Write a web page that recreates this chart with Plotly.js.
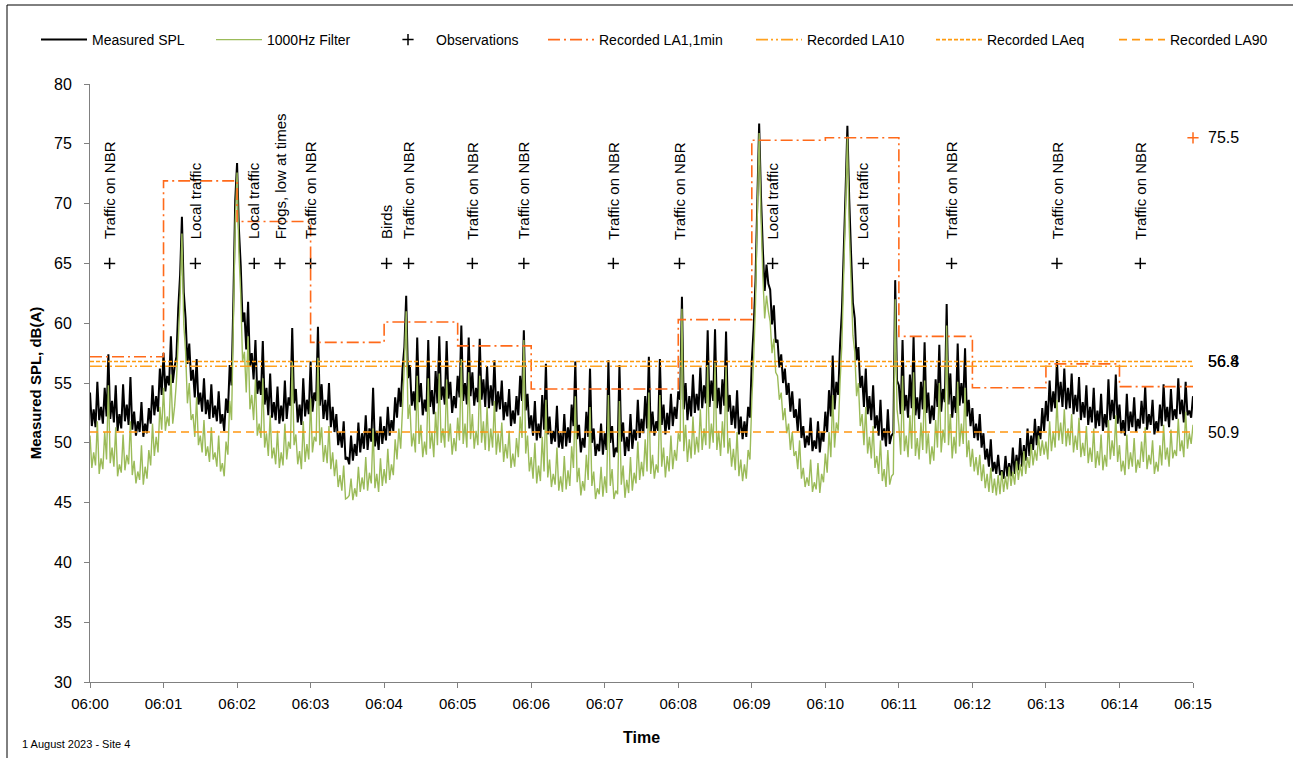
<!DOCTYPE html>
<html><head><meta charset="utf-8">
<script src="https://cdn.plot.ly/plotly-3.0.1.min.js"></script>
<style>html,body{margin:0;padding:0;background:#fff}#chart{width:1293px;height:758px}</style>
</head><body><div id="chart"></div>
<script>
// ---------------- DATA ----------------
const dayPrefix = '2023-08-01 ';
const sampleStepSec = 1.5; // one reading every 1.5 s from 06:00:00 to 06:15:00

const measuredSPL = [
 54.2,51.4,52.8,51.3,55.1,51.9,53.0,51.6,54.6,52.2,57.4,52.0,53.5,51.7,54.8,51.0,52.4,51.2,54.9,51.8,53.2,51.5,55.5,51.1,52.6,50.6,51.8,50.9,53.4,50.5,51.6,50.8,52.9,51.6,54.8,52.3,53.9,52.6,56.2,54.0,
 57.5,54.3,55.6,54.8,58.9,55.0,56.3,57.2,61.2,64.0,68.9,62.6,60.4,56.6,58.3,55.2,56.1,53.8,57.0,53.2,54.2,52.6,55.4,52.4,53.6,52.0,54.9,52.1,53.1,51.8,54.3,51.6,52.4,51.0,53.7,52.5,56.5,54.8,62.0,70.3,
 73.4,67.9,64.8,60.1,60.9,57.8,61.8,56.4,57.5,55.3,58.6,54.1,55.2,54.0,58.5,53.2,54.6,52.3,55.8,52.1,53.4,51.9,54.7,51.6,53.1,51.8,55.2,52.0,53.8,53.1,59.6,53.3,54.5,51.7,53.2,51.5,55.4,52.2,53.6,52.4,
 56.8,52.6,54.2,53.5,59.7,53.1,54.9,52.0,53.6,51.9,55.0,51.3,53.0,50.9,52.4,49.8,50.9,49.6,51.8,48.6,48.8,48.2,50.6,48.5,49.9,48.9,51.7,49.2,50.8,49.5,52.3,49.4,51.2,50.1,54.6,49.7,51.0,49.4,52.2,49.9,
 51.4,50.2,53.0,50.6,51.9,51.0,53.8,52.1,54.6,53.0,56.2,58.0,62.3,55.4,56.5,53.1,54.3,52.7,58.8,53.4,55.0,52.3,53.6,52.6,58.6,53.0,54.4,52.4,56.0,53.3,58.9,53.6,54.7,53.2,58.5,53.7,55.1,52.5,53.9,52.9,
 55.6,53.8,59.8,53.5,55.0,53.2,58.8,53.9,55.9,53.1,54.6,53.4,58.7,53.6,55.3,53.0,56.4,52.9,54.8,53.1,56.9,52.6,54.3,52.8,55.2,51.9,53.4,52.2,54.5,51.4,52.7,51.6,53.9,52.3,55.6,53.5,59.4,52.7,54.1,51.2,
 52.3,50.6,53.5,50.2,51.6,50.4,54.0,51.1,56.6,50.7,52.2,49.9,51.0,50.1,53.1,49.6,50.8,49.5,52.4,49.7,51.3,50.0,53.2,51.4,56.8,50.3,51.5,49.2,50.4,49.6,52.6,50.5,56.2,50.0,51.2,48.9,49.9,49.3,51.6,49.0,
 50.8,49.4,56.9,50.0,51.4,48.8,49.6,49.2,56.5,50.1,51.7,48.9,50.5,49.3,52.4,49.5,51.1,50.2,53.6,50.4,52.0,50.8,53.9,51.2,57.2,50.9,52.6,50.6,51.8,51.0,57.0,51.5,53.2,50.7,52.5,51.1,54.1,51.4,53.0,52.0,
 54.3,53.6,62.2,52.8,55.0,51.9,53.9,52.2,55.7,52.5,54.1,52.7,56.3,52.9,54.8,53.3,59.4,53.0,55.2,53.5,59.5,52.9,54.6,52.4,55.3,53.1,59.3,52.6,54.0,51.5,53.1,51.2,54.4,50.7,52.2,50.3,51.8,50.5,53.0,52.1,
 56.8,59.6,63.5,70.2,76.7,70.6,66.2,62.7,64.9,63.3,62.8,59.9,61.5,58.4,58.6,56.3,57.4,55.0,56.2,54.0,55.0,52.6,54.3,52.1,52.8,51.0,53.7,50.4,51.4,49.6,50.6,49.8,52.1,49.3,50.2,49.5,51.8,49.2,50.9,50.1,
 52.6,50.9,54.4,52.2,57.3,52.8,55.1,54.0,58.2,61.0,66.0,71.0,76.5,70.4,65.8,61.7,60.4,56.9,58.0,54.6,55.6,53.0,56.2,52.4,53.9,51.9,54.8,51.2,52.3,50.6,53.6,50.2,51.2,49.7,52.8,49.9,50.6,50.8,63.6,55.2,
 54.8,52.4,58.6,52.7,54.0,52.1,55.7,52.9,58.9,52.3,53.8,52.0,55.1,52.8,58.4,52.5,54.2,51.6,53.1,51.9,55.3,53.0,58.2,52.6,54.5,53.4,61.6,53.2,55.8,52.1,53.9,52.5,58.3,53.1,55.0,53.3,57.9,52.2,53.6,51.4,
 52.9,50.4,51.6,50.2,52.4,49.6,50.8,48.6,49.5,48.0,50.3,47.6,48.4,47.4,49.0,47.3,47.7,47.0,48.9,47.2,48.3,47.2,49.6,47.4,49.0,47.7,50.4,48.0,49.8,48.5,51.2,48.9,50.6,49.4,52.0,49.8,51.4,50.3,52.9,51.0,
 53.5,51.8,55.2,52.6,54.3,52.9,56.9,53.4,55.1,53.0,56.2,52.8,54.6,52.9,55.8,52.4,54.0,52.6,55.5,51.9,53.4,52.1,54.8,51.5,53.0,51.7,54.6,51.2,52.7,51.4,54.1,51.0,52.4,51.3,55.3,51.9,53.6,52.0,55.7,51.6,
 53.2,50.8,51.9,50.6,54.1,51.0,52.6,51.3,53.8,50.9,52.0,51.2,53.5,51.6,54.7,51.1,52.4,51.5,53.6,50.7,51.8,50.9,53.2,51.4,54.9,51.8,53.0,51.3,54.5,51.9,52.8,52.0,55.4,52.4,53.6,51.7,55.1,52.3,52.7,52.1,
 53.9
];

const filter1000Hz = [
 50.6,47.9,49.2,48.1,51.8,47.4,48.7,47.8,50.9,48.6,54.8,48.3,49.6,48.0,51.3,47.2,48.2,47.5,50.7,47.7,49.0,48.2,51.8,47.3,48.5,46.6,47.6,46.9,49.8,46.5,48.0,47.0,49.4,48.1,51.6,48.9,50.5,49.2,53.0,51.1,
 54.6,51.0,52.2,51.4,55.7,51.6,53.0,55.1,58.5,62.0,67.5,59.9,57.6,53.3,55.0,51.9,52.4,50.5,53.8,49.8,50.6,49.2,51.9,48.9,49.7,48.4,51.3,48.6,49.2,48.0,50.6,47.6,48.3,47.2,50.1,49.0,53.5,51.9,60.2,68.4,
 72.6,65.9,62.4,56.8,57.6,54.2,58.9,52.8,54.0,51.9,55.3,50.6,51.6,50.4,55.4,49.6,50.8,48.9,52.3,48.7,49.6,48.2,51.0,47.9,49.2,48.1,51.6,48.6,50.1,49.5,56.8,49.8,50.7,48.2,49.3,47.8,51.8,48.4,49.9,48.6,
 53.7,49.2,50.5,50.1,57.1,49.8,51.3,48.4,49.8,48.3,51.4,47.8,49.2,47.2,48.6,46.3,47.3,46.0,48.1,45.3,45.4,45.6,47.0,45.2,46.2,45.5,48.0,45.9,47.1,46.1,48.8,46.0,47.5,46.6,51.2,46.2,47.4,45.9,48.7,46.4,
 47.8,46.6,49.5,46.9,48.2,47.3,50.3,48.6,51.2,49.5,52.9,56.6,61.0,52.0,53.2,49.7,50.8,49.2,55.6,49.9,51.5,48.8,50.1,49.0,55.4,49.5,50.9,48.8,52.6,49.8,55.8,50.0,51.2,49.6,55.3,50.1,51.6,49.0,50.4,49.3,
 52.1,50.2,57.0,49.9,51.6,49.6,55.9,50.3,52.4,49.5,51.0,49.8,55.6,50.0,51.8,49.4,53.0,49.3,51.2,49.6,53.5,49.0,50.8,49.2,51.7,48.4,49.9,48.7,51.0,47.9,49.1,48.0,50.4,48.8,52.2,50.4,58.6,49.1,50.6,47.6,
 48.8,47.0,50.0,46.6,48.1,46.8,50.5,47.6,53.6,47.1,48.6,46.3,47.4,46.5,49.6,46.0,47.2,45.9,48.9,46.1,47.7,46.4,49.7,47.9,53.9,46.7,47.9,45.6,46.8,46.0,49.0,46.9,53.0,46.4,47.6,45.3,46.2,45.7,48.0,45.5,
 47.2,45.8,54.0,46.4,47.8,45.3,46.0,45.7,53.5,46.5,48.1,45.4,46.9,45.8,48.8,46.0,47.5,46.6,50.1,46.9,48.4,47.2,50.3,47.6,54.2,47.4,49.0,47.0,48.2,47.5,54.0,48.0,49.6,47.1,48.9,47.6,50.6,47.8,49.4,48.5,
 50.8,50.1,61.2,49.3,51.5,48.4,50.3,48.7,52.2,49.0,50.5,49.2,52.8,49.4,51.2,49.8,56.5,49.5,51.6,50.0,56.7,49.4,51.0,48.9,51.8,49.6,56.4,49.1,50.4,48.0,49.5,47.7,50.9,47.2,48.6,46.8,48.2,47.0,49.4,48.6,
 53.5,57.0,61.6,69.2,75.9,69.0,64.0,60.4,62.3,61.0,60.1,57.5,58.7,55.9,55.6,53.6,54.2,51.9,52.9,50.8,51.6,49.4,50.9,48.9,49.3,47.8,50.2,47.0,47.9,46.3,47.1,46.4,48.6,45.9,46.7,46.1,48.3,45.8,47.4,46.7,
 49.1,47.5,50.9,48.8,54.0,49.6,51.7,51.0,55.0,58.2,64.2,69.6,75.6,68.0,63.5,59.0,57.6,53.9,55.0,51.4,52.4,49.8,53.0,49.1,50.5,48.7,51.4,47.9,48.9,47.4,50.2,46.8,47.8,46.3,49.4,46.5,47.2,47.4,62.0,52.8,
 51.4,49.0,55.6,49.3,50.6,48.8,52.3,49.5,55.9,48.9,50.4,48.6,51.7,49.4,55.2,49.1,50.8,48.2,49.7,48.5,51.9,49.6,55.0,49.2,51.1,50.0,59.8,49.8,52.4,48.7,50.5,49.1,55.1,49.7,51.6,49.9,54.6,48.8,50.2,48.0,
 49.5,47.6,48.8,47.3,49.0,46.8,48.2,46.2,47.4,45.9,47.9,45.8,47.0,45.6,47.3,45.7,47.6,45.9,47.2,46.1,48.0,46.4,47.6,46.5,48.5,46.9,48.2,47.2,49.3,47.4,48.8,47.9,49.9,48.1,49.4,48.5,50.6,48.9,50.2,49.0,
 50.1,48.6,51.8,49.3,50.9,49.6,53.6,50.2,51.7,49.9,52.8,49.7,51.2,49.8,52.4,49.2,50.6,49.4,52.1,48.8,50.0,48.9,51.4,48.3,49.6,48.4,51.2,47.9,49.3,48.1,50.7,47.7,49.0,48.0,51.9,48.6,50.2,48.9,52.3,48.4,
 49.8,47.6,48.5,47.3,50.7,47.8,49.2,48.0,50.4,47.5,48.6,47.9,50.1,48.4,51.3,47.8,49.0,48.2,50.2,47.4,48.4,47.6,49.8,48.1,51.5,48.6,49.6,48.0,51.1,48.7,49.4,48.9,52.0,49.3,50.2,48.8,52.6,49.5,50.8,49.9,
 51.5
];

const obsTimes = ['06:00:16','06:01:26','06:02:14','06:02:35','06:03:00','06:04:02','06:04:20','06:05:12',
                  '06:05:54','06:07:07','06:08:01','06:09:17','06:10:31','06:11:43','06:13:09','06:14:17'];
const obsLabels = ['Traffic on NBR','Local traffic','Local traffic','Frogs, low at times','Traffic on NBR','Birds',
                   'Traffic on NBR','Traffic on NBR','Traffic on NBR','Traffic on NBR','Traffic on NBR',
                   'Local traffic','Local traffic','Traffic on NBR','Traffic on NBR','Traffic on NBR'];
const obsLevel = 65;

const la1Times = ['06:00','06:01','06:02','06:03','06:04','06:05','06:06','06:07','06:08','06:09','06:10','06:11','06:12','06:13','06:14','06:15'];
const la1Values = [57.2,71.9,68.5,58.4,60.1,58.1,54.5,54.5,60.3,75.3,75.5,58.9,54.6,56.6,54.7,54.7];
const la1Max = 75.5;
const la10Value = 56.4;
const laeqValue = 56.8;
const la90Value = 50.9;

const xTickLabels = ['06:00','06:01','06:02','06:03','06:04','06:05','06:06','06:07','06:08','06:09','06:10','06:11','06:12','06:13','06:14','06:15'];
const yTickValues = [30,35,40,45,50,55,60,65,70,75,80];

// ---------------- BUILD ----------------
function pad(n){return (n<10?'0':'')+n;}
function sampleTime(i){const s=i*sampleStepSec;return dayPrefix+'06:'+pad(Math.floor(s/60))+':'+pad(s%60);}
const sampleX = measuredSPL.map((_,i)=>sampleTime(i));
const tStart = dayPrefix + xTickLabels[0];
const tEnd = dayPrefix + xTickLabels[xTickLabels.length-1];
const tickVals = xTickLabels.map(t=>dayPrefix+t);
const FONT = 'Liberation Sans, Arial, sans-serif';
const cLA1='#FF6A1A', cLA10='#FFA11F', cLAeq='#FF9B0F', cLA90='#FF9710';

const traces = [
 {x:sampleX,y:measuredSPL,type:'scatter',mode:'lines',name:'Measured SPL',legend:'legend',line:{color:'#000000',width:2,simplify:false}},
 {x:sampleX,y:filter1000Hz,type:'scatter',mode:'lines',name:'1000Hz Filter',legend:'legend2',line:{color:'#9BBB59',width:1.4,simplify:false}},
 {x:obsTimes.map(t=>dayPrefix+t),y:obsTimes.map(()=>obsLevel),type:'scatter',mode:'markers',name:'Observations',legend:'legend3',
  marker:{symbol:'cross-thin',size:8,color:'#000',line:{color:'#000',width:1.5}}},
 {x:la1Times.map(t=>dayPrefix+t),y:la1Values,type:'scatter',mode:'lines',name:'Recorded LA1,1min',legend:'legend4',
  line:{color:cLA1,width:1.6,shape:'hv',dash:'12px,4px,2px,4px'}},
 {x:[tStart,tEnd],y:[la10Value,la10Value],type:'scatter',mode:'lines',name:'Recorded LA10',legend:'legend5',
  line:{color:cLA10,width:1.6,dash:'12px,3px,2px,3px,2px,3px'}},
 {x:[tStart,tEnd],y:[laeqValue,laeqValue],type:'scatter',mode:'lines',name:'Recorded LAeq',legend:'legend6',
  line:{color:cLAeq,width:1.6,dash:'4px,2px'}},
 {x:[tStart,tEnd],y:[la90Value,la90Value],type:'scatter',mode:'lines',name:'Recorded LA90',legend:'legend7',
  line:{color:cLA90,width:1.6,dash:'8px,5px'}},
 {x:[tEnd],y:[la1Max],type:'scatter',mode:'markers',showlegend:false,cliponaxis:false,
  marker:{symbol:'cross-thin',size:8,color:cLA1,line:{color:cLA1,width:1.5}}}
];

const annotations = obsTimes.map((t,i)=>({
  x:dayPrefix+t,y:obsLevel,xref:'x',yref:'y',text:obsLabels[i],textangle:-90,showarrow:false,
  xanchor:'center',yanchor:'bottom',yshift:22,font:{family:FONT,size:15,color:'#000'}
}));
[[la1Max,la1Max],[laeqValue,laeqValue],[la10Value,laeqValue],[la90Value,la90Value]].forEach(([v,pos])=>{
  annotations.push({x:1,xref:'paper',y:pos,yref:'y',text:v.toFixed(1),showarrow:false,xanchor:'left',xshift:13,
    font:{family:FONT,size:16,color:'#000'}});
});
annotations.push({x:(20-90)/1103,xref:'paper',y:-(744-682)/598,yref:'paper',text:'1 August 2023 - Site 4',
  showarrow:false,xanchor:'left',yanchor:'middle',font:{family:FONT,size:11,color:'#000'}});

// one legend box per entry so each sits where the reference puts it
const legendLeftPx = [36,211,380,543,751,931,1114];
function legendBox(px){
  return {orientation:'h',x:(px-90)/1103,xanchor:'left',y:1+(84-40)/598,yanchor:'middle',
    font:{family:FONT,size:14,color:'#000'},itemwidth:46,bgcolor:'rgba(0,0,0,0)'};
}

const layout = {
  width:1293,height:758,
  margin:{l:90,r:100,t:84,b:76},
  paper_bgcolor:'#fff',plot_bgcolor:'#fff',
  font:{family:FONT,color:'#000'},
  showlegend:true,
  legend:legendBox(legendLeftPx[0]),legend2:legendBox(legendLeftPx[1]),legend3:legendBox(legendLeftPx[2]),
  legend4:legendBox(legendLeftPx[3]),legend5:legendBox(legendLeftPx[4]),legend6:legendBox(legendLeftPx[5]),
  legend7:legendBox(legendLeftPx[6]),
  xaxis:{type:'date',range:[tStart,tEnd],tickvals:tickVals,ticktext:xTickLabels,ticks:'outside',ticklen:5,
    tickcolor:'#808080',showline:true,linecolor:'#808080',linewidth:1,showgrid:false,zeroline:false,
    tickfont:{family:FONT,size:15,color:'#000'},ticklabelstandoff:3,
    title:{text:'<b>Time</b>',font:{family:FONT,size:16,color:'#000'},standoff:20}},
  yaxis:{range:[30,80],tickvals:yTickValues,ticks:'outside',ticklen:5,tickcolor:'#808080',showline:true,
    linecolor:'#808080',linewidth:1,showgrid:false,zeroline:false,
    tickfont:{family:FONT,size:16,color:'#000'},ticklabelstandoff:9,
    title:{text:'<b>Measured SPL, dB(A)</b>',font:{family:FONT,size:15,color:'#000'},standoff:8}},
  annotations:annotations,
  shapes:[
    {type:'line',xref:'paper',yref:'paper',x0:(7-90)/1103,x1:(1293-90)/1103,y0:1+(84-5)/598,y1:1+(84-5)/598,line:{color:'#000',width:1}},
    {type:'line',xref:'paper',yref:'paper',x0:(7-90)/1103,x1:(7-90)/1103,y0:1+(84-5)/598,y1:-(758-682)/598,line:{color:'#000',width:1}}
  ]
};
Plotly.newPlot('chart',traces,layout,{displayModeBar:false,staticPlot:true});
</script></body></html>
